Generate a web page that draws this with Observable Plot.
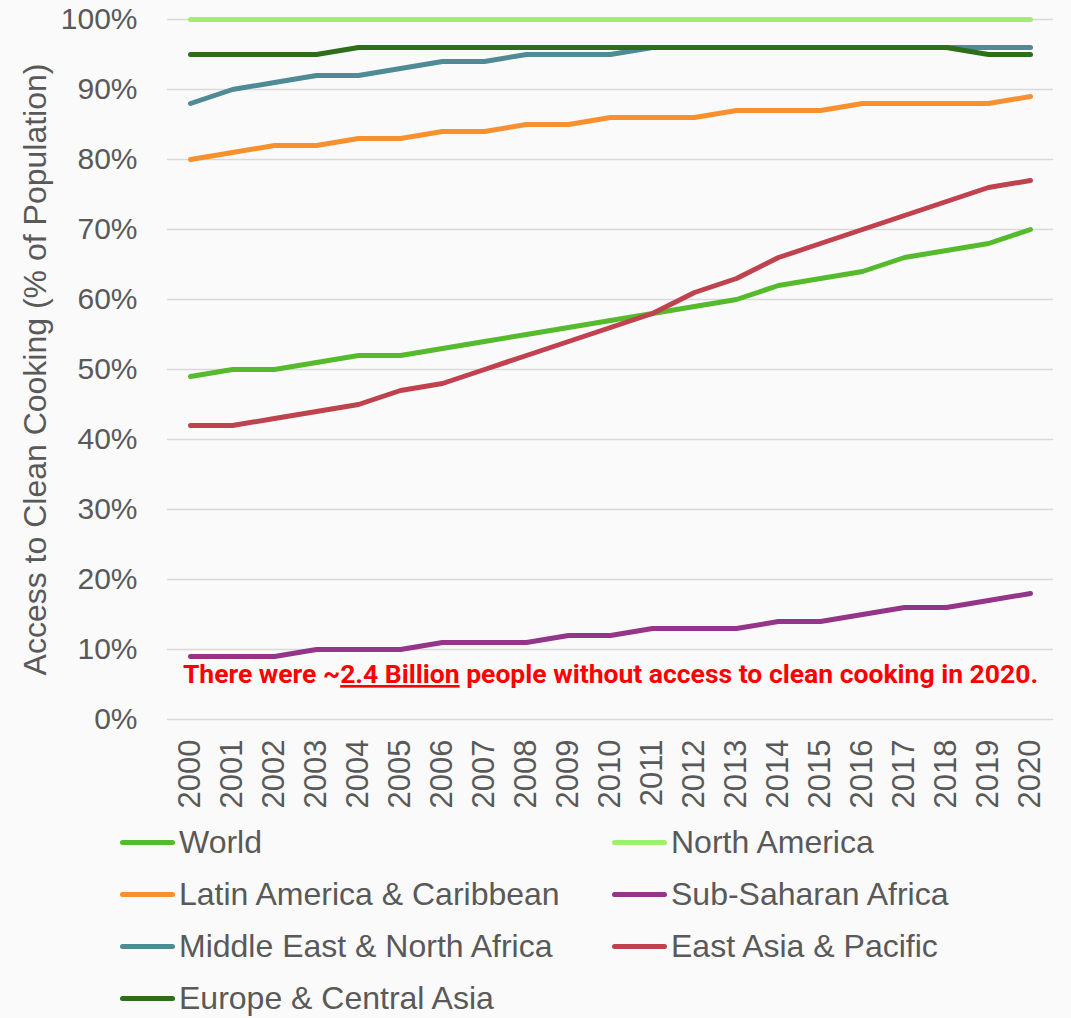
<!DOCTYPE html>
<html>
<head>
<meta charset="utf-8">
<script src="https://cdn.jsdelivr.net/npm/d3@7"></script>
<script src="https://cdn.jsdelivr.net/npm/@observablehq/plot@0.6"></script>
<style>
  html, body { margin: 0; padding: 0; background: #fafafa; }
  #chart { width: 1071px; }
  .legend {
    display: grid;
    grid-template-columns: 492px 459px;
    padding-left: 120px;
    font-family: "Liberation Sans", Arial, sans-serif;
    font-size: 32px;
    color: #595959;
  }
  .item { height: 52px; display: flex; align-items: center; white-space: nowrap; }
  .sw { width: 55px; height: 5px; border-radius: 3px; margin-right: 4px; flex: none; }
</style>
</head>
<body>
<div id="chart"></div>
<script>
const years = [2000,2001,2002,2003,2004,2005,2006,2007,2008,2009,2010,2011,2012,2013,2014,2015,2016,2017,2018,2019,2020];
const yTicks = [0,10,20,30,40,50,60,70,80,90,100];
const seriesNames = ["World","North America","Latin America & Caribbean","Sub-Saharan Africa","Middle East & North Africa","East Asia & Pacific","Europe & Central Asia"];
const seriesColors = ["#55bb2c","#a0ee6e","#f7912f","#94358a","#4e8b95","#c0424f","#2e6e1a"];

const world        = [49,50,50,51,52,52,53,54,55,56,57,58,59,60,62,63,64,66,67,68,70];
const northAmerica = [100,100,100,100,100,100,100,100,100,100,100,100,100,100,100,100,100,100,100,100,100];
const latinAmerica = [80,81,82,82,83,83,84,84,85,85,86,86,86,87,87,87,88,88,88,88,89];
const subSaharan   = [9,9,9,10,10,10,11,11,11,12,12,13,13,13,14,14,15,16,16,17,18];
const middleEast   = [88,90,91,92,92,93,94,94,95,95,95,96,96,96,96,96,96,96,96,96,96];
const eastAsia     = [42,42,43,44,45,47,48,50,52,54,56,58,61,63,66,68,70,72,74,76,77];
const europe       = [95,95,95,95,96,96,96,96,96,96,96,96,96,96,96,96,96,96,96,95,95];

const seriesValues = [world, northAmerica, latinAmerica, subSaharan, middleEast, eastAsia, europe];
const yTitle = "Access to Clean Cooking (% of Population)";
const annotationParts = ["There were ~", "2.4 Billion", " people without access to clean cooking in 2020."];

const rows = seriesNames.flatMap((name, i) =>
  years.map((year, j) => ({series: name, year, value: seriesValues[i][j]}))
);

const plot = Plot.plot({
  width: 1071,
  height: 816,
  marginTop: 19,
  marginBottom: 97,
  marginLeft: 167,
  marginRight: 18,
  style: {background: "transparent", fontFamily: "'Liberation Sans', Arial, sans-serif", color: "#595959"},
  x: {type: "point", domain: years, padding: 0.5},
  y: {domain: [0, 100]},
  color: {domain: seriesNames, range: seriesColors},
  marks: [
    Plot.gridY(yTicks, {stroke: "#d9d9d9", strokeOpacity: 1, strokeWidth: 1.5}),
    Plot.axisY(yTicks, {tickSize: 0, tickPadding: 30, fontSize: 30, tickFormat: d => d + "%", label: null, fill: "#595959"}),
    Plot.axisX(years, {tickSize: 0, tickPadding: 20, tickRotate: -90, fontSize: 31, tickFormat: d => String(d), label: null, fill: "#595959"}),
    Plot.line(rows, {x: "year", y: "value", z: "series", stroke: "series", strokeWidth: 5, strokeLinecap: "round", strokeLinejoin: "round"}),
    Plot.text([yTitle], {frameAnchor: "left", rotate: -90, dx: -132, fontSize: 32, fill: "#595959", textAnchor: "middle", lineAnchor: "middle"}),
    Plot.text([annotationParts.join("")], {frameAnchor: "bottom", dy: -45, fontSize: 26.5, fontWeight: "bold", fill: "#ff0000", fontFamily: "Roboto", textAnchor: "middle", lineAnchor: "middle", className: "anno"})
  ]
});

document.getElementById("chart").appendChild(plot);

const t = d3.select(plot).select("g.anno text");
t.text(null);
annotationParts.forEach((p, i) => {
  const ts = t.append("tspan").text(p);
  if (i === 1) ts.attr("text-decoration", "underline");
});

// Legend (HTML, below the SVG)
const legend = d3.select("#chart").append("div").attr("class", "legend");
seriesNames.forEach((name, i) => {
  const item = legend.append("div").attr("class", "item");
  item.append("div").attr("class", "sw").style("background", seriesColors[i]);
  item.append("span").text(name);
});
</script>
</body>
</html>
